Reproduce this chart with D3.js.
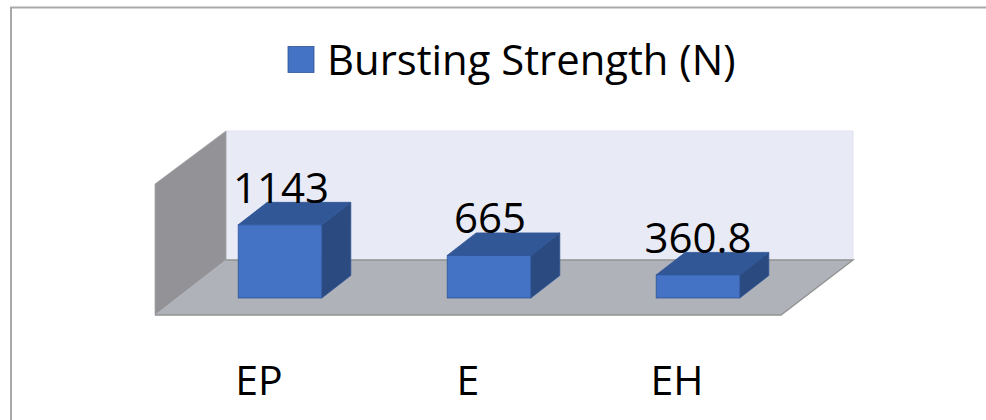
<!DOCTYPE html>
<html><head><meta charset="utf-8">
<script src="https://cdn.jsdelivr.net/npm/d3@7"></script>
<style>html,body{margin:0;padding:0;background:#fff}svg{display:block}text{font-family:"Open Sans",sans-serif;fill:#000}</style>
</head><body><div id="c"></div>
<script>
const categories = ["EP","E","EH"];
const values = [1143,665,360.8];
const valueLabels = ["1143","665","360.8"];
const seriesName = "Bursting Strength (N)";

const W=986,H=420;
const svg=d3.select("#c").append("svg").attr("width",W).attr("height",H);
svg.append("path").attr("d",`M11,${H}V7.5H${W}`).attr("fill","none").attr("stroke","#a9a9a9").attr("stroke-width",2);

const x=d3.scaleBand().domain(categories).range([175.5,802.5]).paddingInner(0.6).paddingOuter(0.3);
const y=d3.scaleLinear().domain([0,2000]).range([298,170]);
const dx=29,dy=-22.5;
const poly=p=>"M"+p.map(a=>a.join(",")).join("L")+"Z";

// walls
const fl=155,fr=781,fb=315,wx=71,wy=-55;
svg.append("path").attr("d",poly([[fl+wx,fb+wy],[fr+wx+1,fb+wy],[fr+wx+1,131],[fl+wx,131]])).attr("fill","#e8eaf6").attr("stroke","#e0e1ec").attr("stroke-width",1);
svg.append("path").attr("d",poly([[fl,fb],[fl+wx,fb+wy],[fl+wx,131],[fl,184]])).attr("fill","#929297").attr("stroke","#a3a3a7").attr("stroke-width",.8);
svg.append("path").attr("d",poly([[fl,fb],[fr,fb],[fr+wx+1,fb+wy],[fl+wx,fb+wy]])).attr("fill","#afb2b9");
svg.append("path").attr("d",`M${fl+wx},${fb+wy}H${fr+wx+1}L${fr},${fb}H${fl}`).attr("fill","none").attr("stroke","#939393").attr("stroke-width",1.4);

// bars
const bars=svg.selectAll("g.bar").data(categories.map((c,i)=>({c,v:values[i],l:valueLabels[i]}))).join("g").attr("class","bar");
const bw=x.bandwidth();
bars.append("path").attr("d",d=>{const l=x(d.c)+bw,t=y(d.v),b=y(0);return poly([[l,t],[l+dx,t+dy],[l+dx,b+dy],[l,b]]);}).attr("fill","#2a4a80").attr("stroke","#2f5597").attr("stroke-width",.8);
bars.append("path").attr("d",d=>{const l=x(d.c),t=y(d.v);return poly([[l,t],[l+bw,t],[l+bw+dx,t+dy],[l+dx,t+dy]]);}).attr("fill","#325796").attr("stroke","#2f5597").attr("stroke-width",.8);
bars.append("rect").attr("x",d=>x(d.c)).attr("y",d=>y(d.v)).attr("width",bw).attr("height",d=>y(0)-y(d.v)).attr("fill","#4472c4").attr("stroke","#2f5597").attr("stroke-width",.8);
bars.append("text").attr("x",(d,i)=>x(d.c)+bw/2+1-(i==2?1:0)).attr("y",d=>y(d.v)-22).attr("text-anchor","middle").attr("font-size",42).text(d=>d.l);

// category labels
svg.selectAll("text.cat").data(categories).join("text").attr("class","cat").attr("x",d=>x(d)+bw/2-21).attr("y",394.5).attr("text-anchor","middle").attr("font-size",41).text(d=>d);

// legend
svg.append("rect").attr("x",288).attr("y",46.5).attr("width",26).attr("height",26).attr("fill","#4472c4").attr("stroke","#2f5597").attr("stroke-width",.8);
svg.append("text").attr("x",327).attr("y",75).attr("font-size",41.8).text(seriesName);
</script></body></html>
